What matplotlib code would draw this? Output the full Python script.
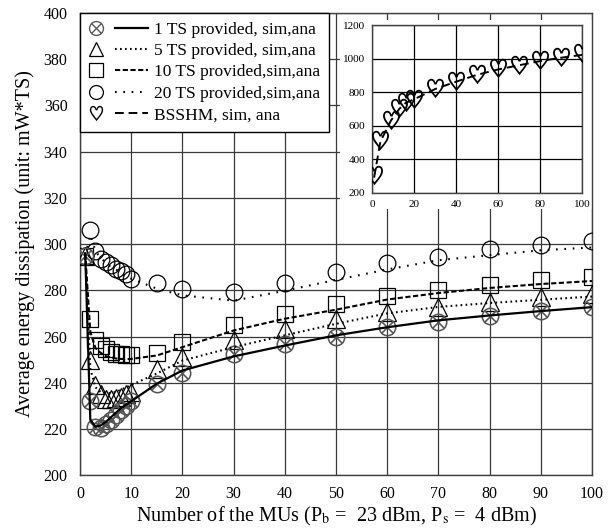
import matplotlib
matplotlib.use("Agg")
import matplotlib.pyplot as plt
from matplotlib.lines import Line2D
from matplotlib.patches import Rectangle
from matplotlib.legend_handler import HandlerBase

plt.rcParams['font.family'] = ['Liberation Serif', 'DejaVu Serif']
plt.rcParams['mathtext.fontset'] = 'stix'

# number of MUs (main plot)
x_mu = [1, 2, 3, 4, 5, 6, 7, 8, 9, 10, 15, 20, 30, 40, 50, 60, 70, 80, 90, 100]

ts1_sim = [295, 232, 221, 220.5, 222, 224, 226, 228, 230, 232, 239.6, 244, 252.3, 256.9, 260, 264, 266.2, 268.9, 270.9, 272.7]
ts1_ana = [296, 224, 221, 221.5, 223, 225, 227, 229, 230.5, 232, 239.6, 245.3, 251.4, 256.1, 260.5, 264, 267, 269.1, 271, 272.7]

ts5_sim = [295, 250, 239, 235, 233, 233, 233.5, 234, 235, 236, 246.1, 251.1, 258.6, 263.4, 267.7, 270.6, 272.7, 274.9, 277, 278.5]
ts5_ana = [296, 246, 238, 236, 235.5, 235.5, 236, 237, 238, 239, 244, 249.6, 255.4, 260.5, 265.5, 270, 272.8, 274.5, 275.9, 277.3]

ts10_sim = [295, 267.7, 258.3, 256.1, 254.8, 253.3, 252.5, 252.3, 252, 252, 253, 257.6, 264.8, 269.6, 274.2, 277.4, 280.3, 282.1, 284.3, 285.7]
ts10_ana = [296, 262, 255, 253, 251.5, 251, 250.5, 250.3, 250.2, 250.3, 251.8, 255.4, 262.6, 267.7, 271.6, 276, 278.8, 281, 282.7, 284]

ts20_sim = [295, 306, 296.8, 293.7, 292.2, 290.8, 289.3, 288.3, 286.9, 285, 283, 280.7, 279.2, 283.3, 287.9, 291.8, 294.4, 298, 299.7, 301.5]
ts20_ana = [295, 304, 297, 294, 292, 290, 289, 287.5, 286, 285, 280.7, 277.8, 275.5, 279.8, 284.5, 289, 293, 295.2, 297.3, 298.5]

# inset: BSSHM
x_bsshm = [1, 4, 9, 13, 16, 20, 30, 40, 50, 60, 70, 80, 90, 100]
bsshm_sim = [304, 513, 635, 703, 740, 757, 822, 869, 910, 941, 961, 991, 1011, 1031]
bsshm_ana = [290, 505, 630, 700, 735, 757, 818, 862, 903, 935, 960, 985, 1005, 1022]

labels = ["1 TS provided, sim,ana", "5 TS provided, sim,ana", "10 TS provided,sim,ana",
          "20 TS provided,sim,ana", "BSSHM, sim, ana"]


class MarkerThenLine(HandlerBase):
    # legend key: marker on the left, then a short piece of line
    def create_artists(self, legend, orig_handle, xdescent, ydescent,
                       width, height, fontsize, trans):
        mk_h, ln_h = orig_handle
        y = height / 2 - ydescent
        m = Line2D([-xdescent + 0.13 * width], [y])
        m.update_from(mk_h)
        m.set_linestyle('none')
        l = Line2D([-xdescent + 0.45 * width, -xdescent + width], [y, y])
        l.update_from(ln_h)
        l.set_marker('')
        m.set_transform(trans)
        l.set_transform(trans)
        return [m, l]


fig = plt.figure(figsize=(6.16, 5.28), dpi=100)
ax = fig.add_axes([0.130, 0.100, 0.831, 0.8756])

grid_c = '#3a3a3a'
mk = dict(mfc='none', mec='black', mew=0.9, ls='none')
otimes = dict(marker=r'$\otimes$', ls='none', color='#555555', mew=0)
heart = dict(marker=r'$\heartsuit$', ls='none', color='black', mew=0)

st1 = dict(ls='-', lw=1.6, color='black')
st5 = dict(ls=(0, (0.8, 1.6)), lw=1.5, color='black')
st10 = dict(ls=(0, (2.5, 1.2)), lw=1.5, color='black')
st20 = dict(ls=(0, (0.8, 3.2)), lw=1.5, color='black')
stb = dict(ls=(0, (4.5, 2.5)), lw=1.4, color='black')

ax.plot(x_mu, ts20_sim, marker='o', ms=12, zorder=3, **mk)
ax.plot(x_mu, ts10_sim, marker='s', ms=12, zorder=3, **mk)
ax.plot(x_mu, ts5_sim, marker='^', ms=13, zorder=3, **mk)
ax.plot(x_mu, ts1_sim, ms=13, zorder=3, **otimes)

ax.plot(x_mu, ts20_ana, zorder=4, **st20)
ax.plot(x_mu, ts10_ana, zorder=4, **st10)
ax.plot(x_mu, ts5_ana, zorder=4, **st5)
ax.plot(x_mu, ts1_ana, zorder=4, **st1)

ax.set_xlim(0, 100)
ax.set_ylim(200, 400)
ax.set_xticks(range(0, 101, 10))
ax.set_yticks(range(200, 401, 20))
ax.grid(True, color=grid_c, lw=0.9)
ax.set_axisbelow(True)
ax.tick_params(length=0, labelsize=11.5)
ax.tick_params(axis='y', pad=9)
ax.tick_params(axis='x', pad=8)
for s in ax.spines.values():
    s.set_color('#404040')
    s.set_linewidth(1.0)

ax.set_xlabel(r'Number of the MUs (P$_\mathrm{b}$ =  23 dBm, P$_\mathrm{s}$ =  4 dBm)', fontsize=14.5, labelpad=2)
ax.set_ylabel('Average energy dissipation (unit: mW*TS)', fontsize=14.5, labelpad=6)

# white area behind the inset and its labels
ax.add_patch(Rectangle((340 / 616, 319 / 528), 252 / 616, 189 / 528, transform=fig.transFigure,
                       facecolor='white', edgecolor='none', zorder=2.5))

handles = [
    (Line2D([], [], ms=11, **otimes), Line2D([], [], **st1)),
    (Line2D([], [], marker='^', ms=10, **mk), Line2D([], [], **st5)),
    (Line2D([], [], marker='s', ms=10, **mk), Line2D([], [], **st10)),
    (Line2D([], [], marker='o', ms=10, **mk), Line2D([], [], **st20)),
    (Line2D([], [], ms=11, **heart), Line2D([], [], **stb)),
]
leg = ax.legend(handles, labels, handler_map={tuple: MarkerThenLine()},
                loc='upper left', borderaxespad=0, fontsize=12.5, handlelength=3.4,
                handletextpad=0.35, labelspacing=0.3, borderpad=0.5, fancybox=False,
                framealpha=1, edgecolor='black')
leg.get_frame().set_linewidth(1.0)
leg.set_zorder(6)

# inset
axi = fig.add_axes([0.6039, 0.635, 0.341, 0.3176], zorder=5)
axi.plot(x_bsshm, bsshm_sim, ms=14, zorder=3, **heart)
axi.plot(x_bsshm, bsshm_ana, zorder=4, **stb)
axi.set_xlim(0, 100)
axi.set_ylim(200, 1200)
axi.set_xticks(range(0, 101, 20))
axi.set_yticks(range(200, 1201, 200))
axi.grid(True, color='black', lw=0.9)
axi.set_axisbelow(True)
axi.tick_params(length=0, labelsize=8, pad=5)
for s in axi.spines.values():
    s.set_color('#404040')
    s.set_linewidth(1.0)

fig.savefig('out.png', dpi=100)
